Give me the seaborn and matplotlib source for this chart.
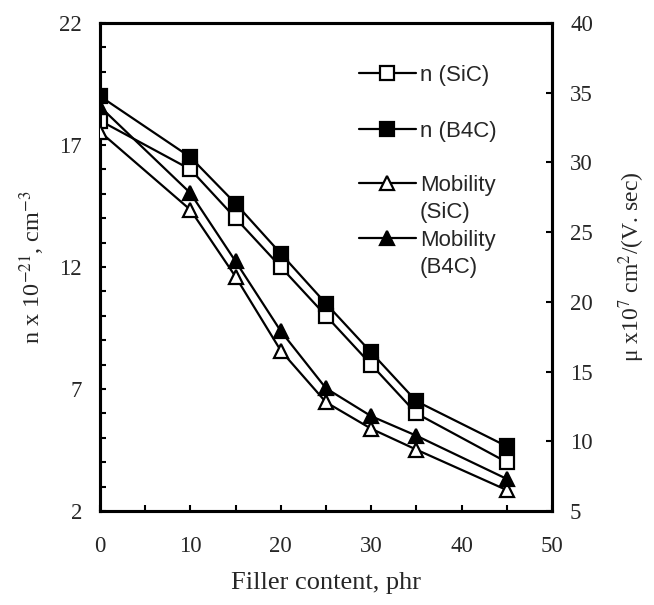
import numpy as np
import pandas as pd
import matplotlib
matplotlib.use("Agg")
import matplotlib.pyplot as plt
from matplotlib.lines import Line2D
from matplotlib.ticker import MultipleLocator, FixedLocator
import seaborn as sns

# Filler loading (phr)
filler = [0, 10, 15, 20, 25, 30, 35, 45]

# Carrier concentration, n x 10^-21 (cm^-3)
n_sic = [18.0, 16.0, 14.0, 12.0, 10.0, 8.0, 6.0, 4.0]
n_b4c = [19.0, 16.5, 14.6, 12.55, 10.5, 8.5, 6.5, 4.65]

# Mobility, mu x 10^7 (cm^2/(V. sec))
mob_sic = [32.2, 26.6, 21.8, 16.5, 12.8, 10.9, 9.4, 6.5]
mob_b4c = [34.0, 27.8, 22.9, 17.9, 13.8, 11.8, 10.4, 7.3]

# Axis tick values
n_ticks = [2, 7, 12, 17, 22]
mob_ticks = [5, 10, 15, 20, 25, 30, 35, 40]
x_ticks = [0, 10, 20, 30, 40, 50]

legend_labels = ["n (SiC)", "n (B4C)", "Mobility\n(SiC)", "Mobility\n(B4C)"]

sns.set_style("ticks")
plt.rcParams["font.family"] = ["Liberation Serif", "DejaVu Serif"]
plt.rcParams["mathtext.fontset"] = "stix"

fig = plt.figure(figsize=(6.54, 6.05), dpi=100)
ax = fig.add_axes([100 / 654, 1 - 511 / 605, 452 / 654, 488 / 605])
ax2 = ax.twinx()

lw = 1.6
ms = 10.5
mew = 1.6
common = dict(color="black", linewidth=lw, markersize=ms,
              markeredgecolor="black", markeredgewidth=mew)

df = pd.DataFrame({"filler": filler, "n_sic": n_sic, "n_b4c": n_b4c,
                   "mob_sic": mob_sic, "mob_b4c": mob_b4c})

sns.lineplot(data=df, x="filler", y="n_sic", ax=ax, marker="s",
             markerfacecolor="white", zorder=4, **common)
sns.lineplot(data=df, x="filler", y="n_b4c", ax=ax, marker="s",
             markerfacecolor="black", zorder=4, **common)
sns.lineplot(data=df, x="filler", y="mob_sic", ax=ax2, marker="^",
             markerfacecolor="white", zorder=4, **common)
sns.lineplot(data=df, x="filler", y="mob_b4c", ax=ax2, marker="^",
             markerfacecolor="black", zorder=4, **common)

# Axis ranges and ticks
ax.set_xlim(x_ticks[0], x_ticks[-1])
ax.set_ylim(n_ticks[0], n_ticks[-1])
ax2.set_ylim(mob_ticks[0], mob_ticks[-1])
ax.xaxis.set_major_locator(FixedLocator(x_ticks))
ax.xaxis.set_minor_locator(MultipleLocator(5))
ax.yaxis.set_major_locator(FixedLocator(n_ticks))
ax.yaxis.set_minor_locator(MultipleLocator(1))
ax2.yaxis.set_major_locator(FixedLocator(mob_ticks))

tick_font = 16.5
for a in (ax, ax2):
    a.tick_params(which="both", direction="in", length=4.5, width=1.5,
                  labelsize=tick_font, color="black")
ax.tick_params(axis="y", pad=13)
ax.tick_params(axis="x", pad=18)
ax2.tick_params(axis="y", pad=13)

for a in (ax, ax2):
    for sp in a.spines.values():
        sp.set_linewidth(2.2)
        sp.set_color("black")
        sp.set_visible(True)

ax.set_xlabel("Filler content, phr", fontsize=19)
ax.set_ylabel(r"n x 10$^{-21}$, cm$^{-3}$", fontsize=17.5)
ax2.set_ylabel(r"μ x10$^{7}$ cm$^{2}$/(V. sec)", fontsize=17)
ax.xaxis.set_label_coords(0.5, -0.125)
ax.yaxis.set_label_coords(-0.117, 0.5)
ax2.yaxis.set_label_coords(1.142, 0.5)

# Legend drawn as handle glyphs plus sans-serif labels
rows_y = [0.897, 0.783, 0.672, 0.559]
markers = ["s", "s", "^", "^"]
faces = ["white", "black", "white", "black"]
x0, xm, x1, xt = 0.573, 0.636, 0.699, 0.708
line_step = 27 / 488
for y, lab, mk, fc in zip(rows_y, legend_labels, markers, faces):
    h = Line2D([x0, xm, x1], [y, y, y], transform=ax.transAxes,
               marker=mk, markevery=[1], markerfacecolor=fc,
               clip_on=False, **common)
    h.set_markersize(9.5)
    ax.add_line(h)
    for i, part in enumerate(lab.split("\n")):
        ax.text(xt, y - i * line_step, part, transform=ax.transAxes,
                fontsize=16, family=["Liberation Sans", "DejaVu Sans"],
                va="center_baseline", ha="left")

fig.savefig("out.png", dpi=100)
